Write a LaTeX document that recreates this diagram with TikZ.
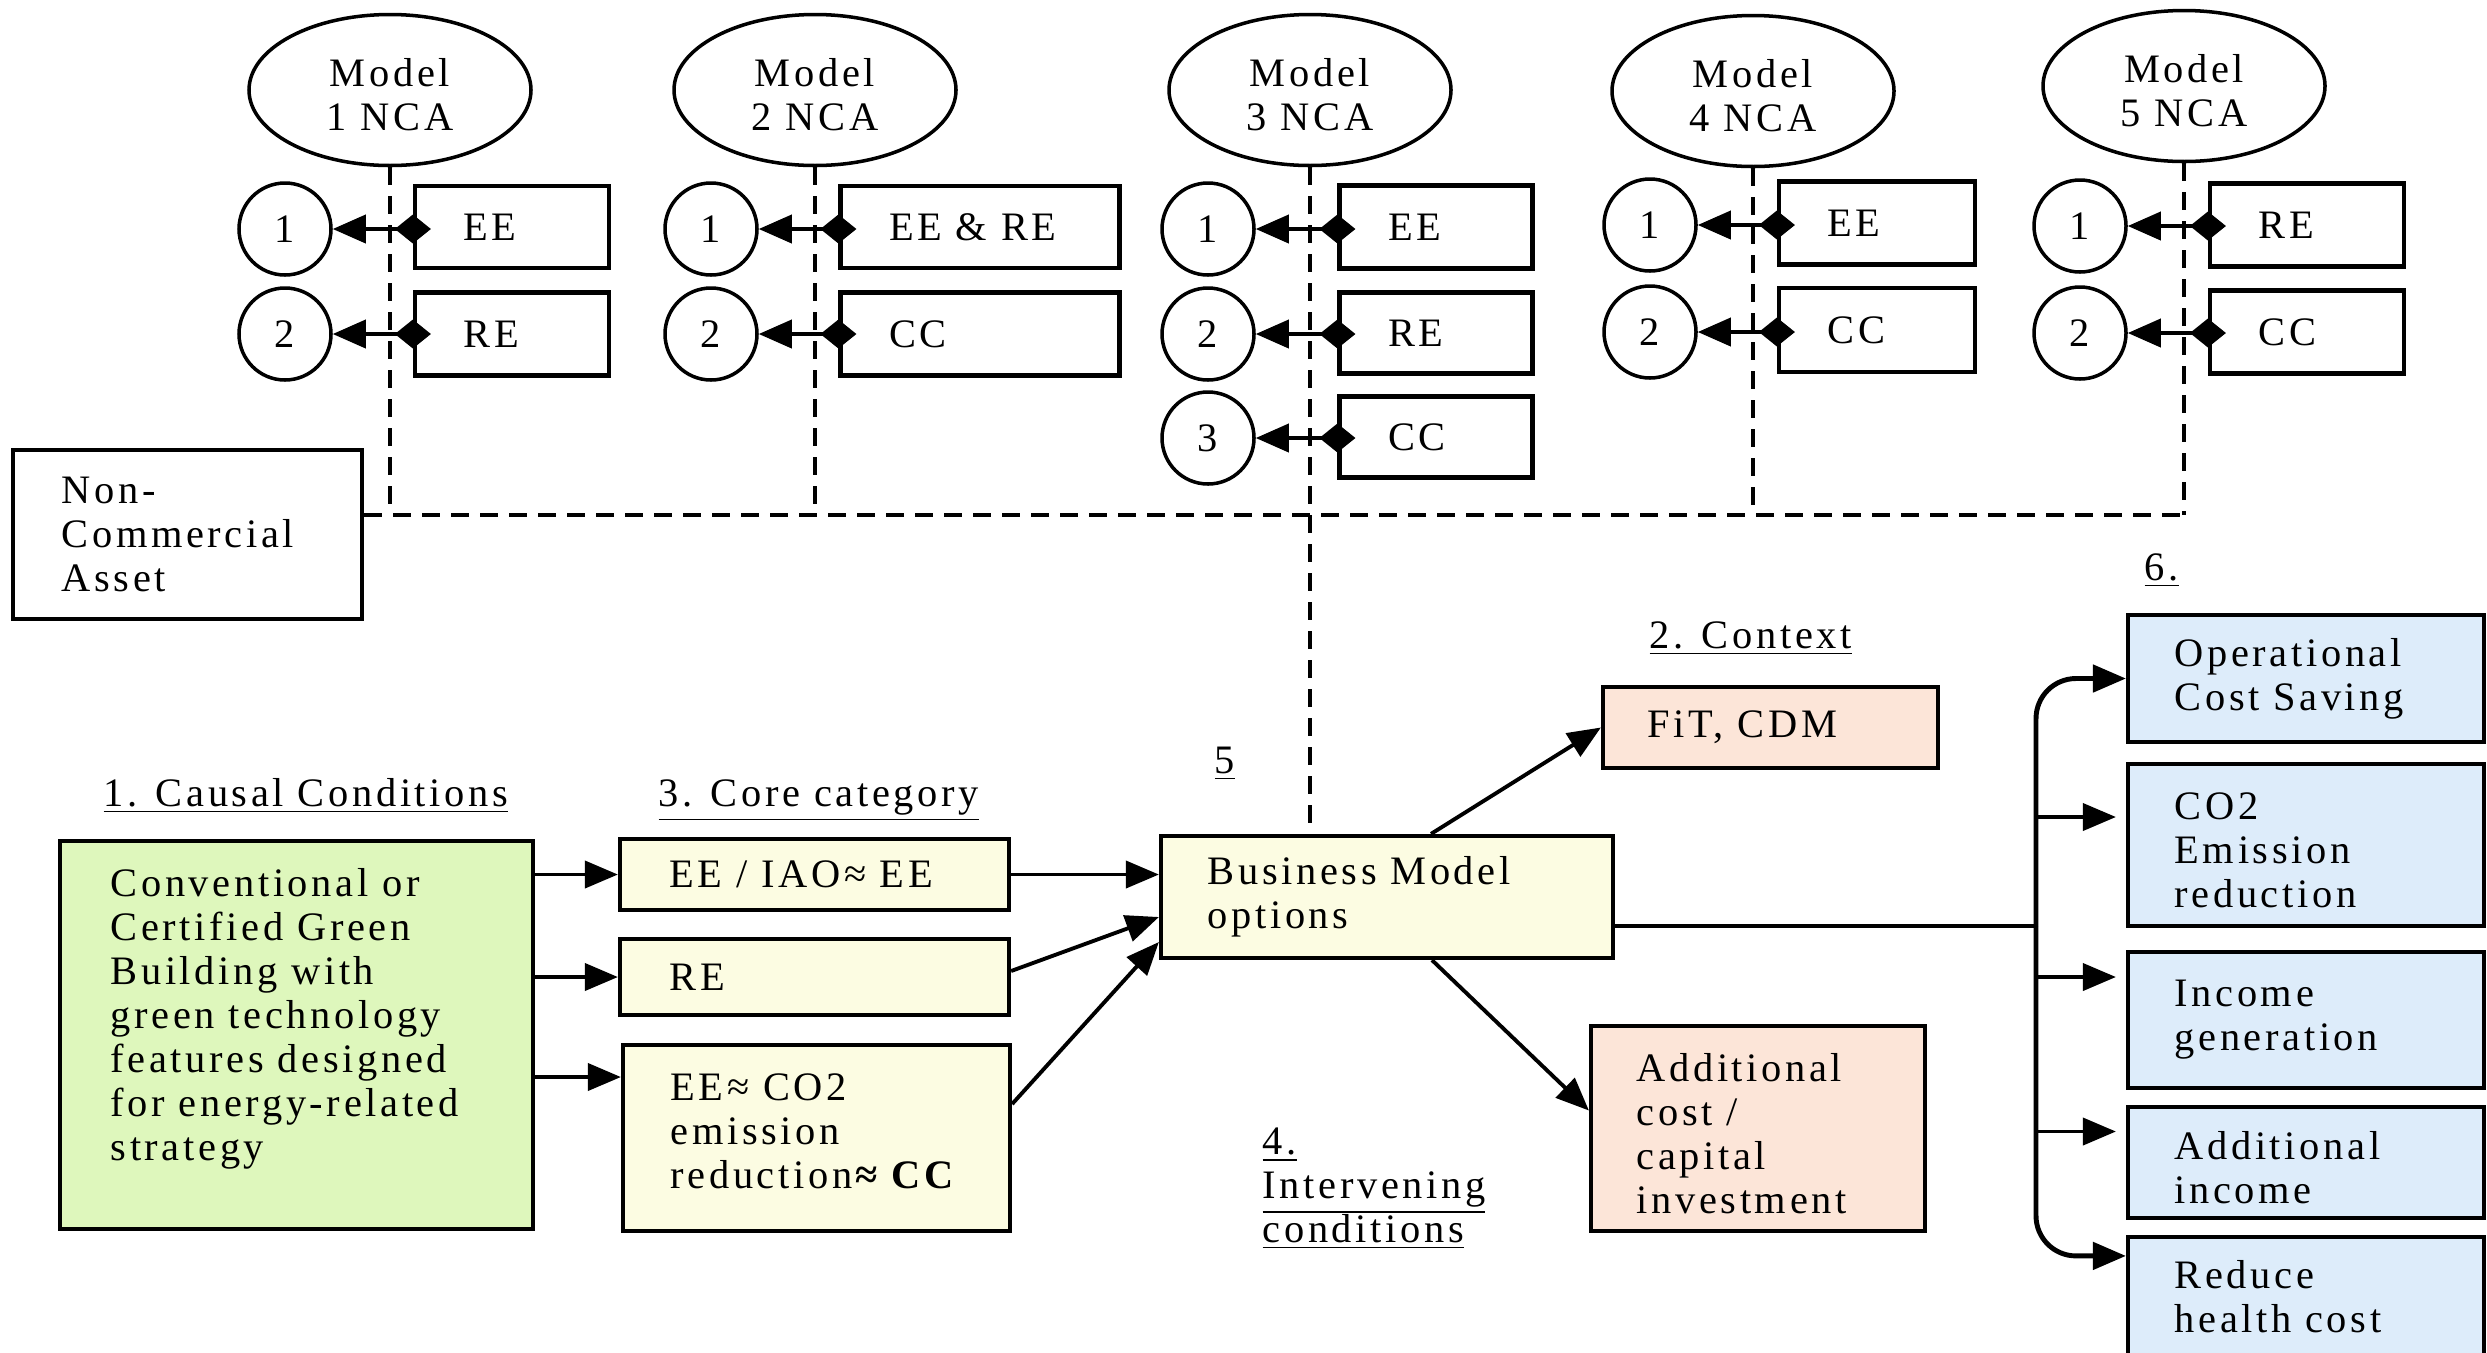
\documentclass[tikz,border=0pt]{standalone}
\usepackage{fontspec}
\setmainfont{Liberation Serif}[LetterSpace=9]
\usetikzlibrary{arrows.meta,shapes.geometric,calc}
\definecolor{gfill}{RGB}{222,247,188}
\definecolor{yfill}{RGB}{252,252,226}
\definecolor{pfill}{RGB}{252,229,216}
\definecolor{bfill}{RGB}{221,236,250}
\tikzset{
  every node/.style={font=\fontsize{11.5pt}{12.5pt}\selectfont, inner sep=0pt},
  bx/.style={draw, line width=1.2pt, rectangle},
  tx/.style={align=left, anchor=west},
  ell/.style={draw, line width=1pt, ellipse, minimum width=28.2mm, minimum height=15.1mm},
  num/.style={draw, line width=1pt, circle, minimum size=9.2mm},
  dsh/.style={line width=1.2pt, dash pattern=on 1.8mm off 1.1mm},
  arr/.style={line width=1.1pt, -{Triangle[length=3.3mm,width=2.7mm]}},
  link/.style={line width=1.1pt, {Triangle[length=3.3mm,width=2.8mm]}-{Diamond[length=3.6mm,width=2.9mm]}, shorten >=-1.8mm},
}
\begin{document}
\begin{tikzpicture}[x=0.1mm,y=-0.1mm]
\useasboundingbox (0,0) rectangle (2487,1352);
\clip (0,0) rectangle (2487,1352);

% ---------- top: models ----------
\node[ell] (e1) at (390,90) {};
\node[ell] (e2) at (815,90) {};
\node[ell] (e3) at (1310,90) {};
\node[ell] (e4) at (1753,91) {};
\node[ell] (e5) at (2184,86) {};
\node[align=center] (m1) at ([yshift=-0.5mm]e1.center) {Model\\1 NCA};
\node[align=center] (m2) at ([yshift=-0.5mm]e2.center) {Model\\2 NCA};
\node[align=center] (m3) at ([yshift=-0.5mm]e3.center) {Model\\3 NCA};
\node[align=center] (m4) at ([yshift=-0.5mm]e4.center) {Model\\4 NCA};
\node[align=center] (m5) at ([yshift=-0.5mm]e5.center) {Model\\5 NCA};

% model 1
\node[num] (c11) at (285,229) {1};
\node[num] (c12) at (285,334) {2};
\node[bx, minimum width=19.4mm, minimum height=8.2mm] (b11) at (512,227) {};
\node[bx, minimum width=19.4mm, minimum height=8.3mm] (b12) at (512,334) {};
\node[tx] (t11) at ([xshift=5mm]b11.west) {EE};
\node[tx] (t12) at ([xshift=5mm]b12.west) {RE};
% model 2
\node[num] (c21) at (711,229) {1};
\node[num] (c22) at (711,334) {2};
\node[bx, minimum width=27.9mm, minimum height=8.2mm] (b21) at (980,227) {};
\node[bx, minimum width=27.9mm, minimum height=8.3mm] (b22) at (980,334) {};
\node[tx] (t21) at ([xshift=5mm]b21.west) {EE \& RE};
\node[tx] (t22) at ([xshift=5mm]b22.west) {CC};
% model 3
\node[num] (c31) at (1208,229) {1};
\node[num] (c32) at (1208,334) {2};
\node[num] (c33) at (1208,438) {3};
\node[bx, minimum width=19.3mm, minimum height=8.3mm] (b31) at (1436,227) {};
\node[bx, minimum width=19.3mm, minimum height=8.1mm] (b32) at (1436,333) {};
\node[bx, minimum width=19.3mm, minimum height=8.1mm] (b33) at (1436,437) {};
\node[tx] (t31) at ([xshift=5mm]b31.west) {EE};
\node[tx] (t32) at ([xshift=5mm]b32.west) {RE};
\node[tx] (t33) at ([xshift=5mm]b33.west) {CC};
% model 4
\node[num] (c41) at (1650,225) {1};
\node[num] (c42) at (1650,332) {2};
\node[bx, minimum width=19.6mm, minimum height=8.3mm] (b41) at (1877,223) {};
\node[bx, minimum width=19.6mm, minimum height=8.4mm] (b42) at (1877,330) {};
\node[tx] (t41) at ([xshift=5mm]b41.west) {EE};
\node[tx] (t42) at ([xshift=5mm]b42.west) {CC};
% model 5
\node[num] (c51) at (2080,226) {1};
\node[num] (c52) at (2080,333) {2};
\node[bx, minimum width=19.4mm, minimum height=8.3mm] (b51) at (2307,225) {};
\node[bx, minimum width=19.4mm, minimum height=8.3mm] (b52) at (2307,332) {};
\node[tx] (t51) at ([xshift=5mm]b51.west) {RE};
\node[tx] (t52) at ([xshift=5mm]b52.west) {CC};

\foreach \c/\b in {c11/b11,c12/b12,c21/b21,c22/b22,c31/b31,c32/b32,c33/b33,c41/b41,c42/b42,c51/b51,c52/b52}
  \draw[link] (\c.east) -- (\b.west |- \c.east);

% non-commercial asset
\node[bx, minimum width=34.9mm, minimum height=16.9mm] (nca) at (187.5,534.5) {};
\node[tx] (tnca) at ([xshift=5mm]nca.west) {Non-\\Commercial\\Asset};

% ---------- bottom ----------
\node[anchor=base west] (l1) at (103,806) {\underline{1. Causal Conditions}};
\node[anchor=base west] (l3) at (658,806) {\underline{3. Core category}};
\node[anchor=base west] (l2) at (1649,648) {\underline{2. Context}};
\node[anchor=base] (l5) at (1225,773) {\underline{5}};
\node[align=left, anchor=north west] (l4) at (1262,1127) {\underline{4.}\\\underline{Intervening}\\\underline{conditions}};
\node[anchor=base west] (l6) at (2144,580) {\underline{6.}};

\node[bx, fill=gfill, minimum width=47.3mm, minimum height=38.8mm] (green) at (296.5,1035) {};
\node[align=left, anchor=north west] (tg) at (110,868) {Conventional or\\Certified Green\\Building with\\green technology\\features designed\\for energy-related\\strategy};

\node[bx, fill=yfill, minimum width=38.9mm, minimum height=7.1mm] (ee) at (814.5,874.5) {};
\node[tx] (tee) at ([xshift=5.1mm]ee.west) {EE / IAO≈ EE};
\node[bx, fill=yfill, minimum width=38.9mm, minimum height=7.6mm] (re) at (814.5,977) {};
\node[tx] (tre) at ([xshift=5.1mm]re.west) {RE};
\node[bx, fill=yfill, minimum width=38.7mm, minimum height=18.6mm] (co2) at (816.5,1138) {};
\node[tx] (tco2) at ([xshift=4.9mm,yshift=0.7mm]co2.west) {EE≈ CO2\\emission\\reduction\textbf{≈ CC}};

\node[bx, fill=yfill, minimum width=45.2mm, minimum height=12.2mm] (bm) at (1387,897) {};
\node[tx] (tbm) at ([xshift=4.8mm]bm.west) {Business Model\\options};

\node[bx, fill=pfill, minimum width=33.5mm, minimum height=8.1mm] (fit) at (1770.5,727.5) {};
\node[tx] (tfit) at ([xshift=4.6mm]fit.west) {FiT, CDM};
\node[bx, fill=pfill, minimum width=33.4mm, minimum height=20.5mm] (cost) at (1758,1128.5) {};
\node[tx] (tcost) at ([xshift=4.7mm,yshift=-0.5mm]cost.west) {Additional\\cost /\\capital\\investment};

% right column
\node[bx, fill=bfill, minimum width=35.6mm, minimum height=12.7mm] (op) at (2306,678.5) {};
\node[tx] (top) at ([xshift=4.8mm]op.west) {Operational\\Cost Saving};
\node[bx, fill=bfill, minimum width=35.6mm, minimum height=16.2mm] (co2r) at (2306,845) {};
\node[tx] (tco2r) at ([xshift=4.8mm,yshift=-0.5mm]co2r.west) {CO2\\Emission\\reduction};
\node[bx, fill=bfill, minimum width=35.6mm, minimum height=13.6mm] (inc) at (2306,1020) {};
\node[tx] (tinc) at ([xshift=4.8mm]inc.west) {Income\\generation};
\node[bx, fill=bfill, minimum width=35.6mm, minimum height=11.1mm] (addi) at (2306,1162.5) {};
\node[tx] (taddi) at ([xshift=4.8mm,yshift=-0.5mm]addi.west) {Additional\\income};
\node[bx, fill=bfill, minimum width=35.6mm, minimum height=18.3mm] (red) at (2306,1328.5) {};
\node[align=left, anchor=north west] (tred) at ([xshift=4.8mm,yshift=-2.5mm]red.north west) {Reduce\\health cost};

% ---------- dashed connectors ----------
\coordinate (hl) at (0,515);
\draw[dsh] (nca.east |- hl) -- (e5.south |- hl);
\foreach \e in {e1,e2,e4,e5}
  \draw[dsh] (\e.south) -- (\e.south |- hl);
\draw[dsh] (e3.south) -- (e3.south |- bm.north);

% ---------- solid connectors ----------
\coordinate (co2in) at ([yshift=6.1mm]co2.west);
\draw[arr] (green.east |- ee.west) -- (ee.west);
\draw[arr] (green.east |- re.west) -- (re.west);
\draw[arr] (green.east |- co2in) -- (co2in);

\coordinate (bm2) at ([yshift=-2mm]bm.west);
\coordinate (bm3) at ([yshift=-4.5mm]bm.west);
\draw[arr] (ee.east) -- (ee.east -| bm.west);
\draw[arr] ([yshift=0.6mm]re.east) -- (bm2);
\draw[arr] ([yshift=3.4mm]co2.east) -- (bm3);
\draw[arr] ([xshift=4.4mm]bm.north) -- (fit.west);
\draw[arr] ([xshift=4.5mm]bm.south) -- ([yshift=1.8mm]cost.west);

\coordinate (jn) at (2036,926);
\draw[line width=1.1pt] ([yshift=-2.9mm]bm.east) -- (jn);
\coordinate (a2) at ([yshift=2.8mm]co2r.west);
\coordinate (a3) at ([yshift=4.3mm]inc.west);
\coordinate (a4) at ([yshift=3.1mm]addi.west);
\coordinate (a5) at ([yshift=-2.1mm]red.north west);
\draw[arr, line width=1.4pt, rounded corners=4mm] (jn) -- (jn |- op.west) -- (op.west);
\draw[arr, line width=1.4pt, rounded corners=4mm] (jn) -- (jn |- a5) -- (a5);
\draw[arr, shorten >=1mm] (jn |- a2) -- (a2);
\draw[arr, shorten >=1mm] (jn |- a3) -- (a3);
\draw[arr, shorten >=1mm] (jn |- a4) -- (a4);
\end{tikzpicture}
\end{document}
